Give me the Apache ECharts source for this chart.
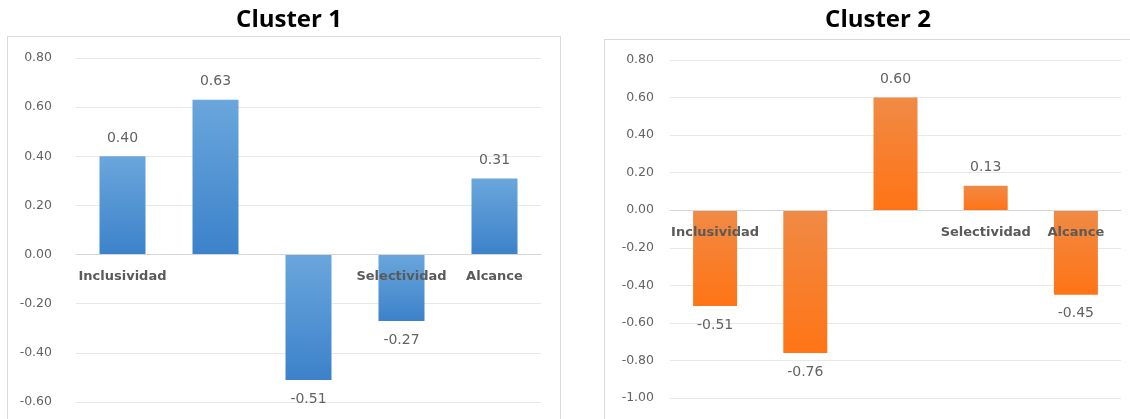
<!DOCTYPE html>
<html>
<head>
<meta charset="utf-8">
<script src="https://cdn.jsdelivr.net/npm/echarts@6/dist/echarts.min.js"></script>
<style>
  html, body { margin: 0; padding: 0; background: #fff; }
  #chart { width: 1130px; height: 419px; }
</style>
</head>
<body>
<div id="chart"></div>
<script>
// categories (the 2nd and 3rd have no visible name in the source)
const categories = ["Inclusividad", "", " ", "Selectividad", "Alcance"];
const cluster1 = [0.40, 0.63, -0.51, -0.27, 0.31];
const cluster2 = [-0.51, -0.76, 0.60, 0.13, -0.45];
const titles = ["Cluster 1", "Cluster 2"];
const yRanges = [[-0.6, 0.8], [-1, 0.8]];

const H = 419;
const grids = [
  { left: 76, right: 589, top: 58, bottom: 17 },
  { left: 670, right: 9, top: 60, bottom: 21 },
];

const titleFont = "'Open Sans', sans-serif";
const font = "'DejaVu Sans', sans-serif";
const gray = "#636363";

/* 柱子数据：正值标签在上，负值标签在下 */
const toData = (vals) =>
  vals.map((v) => ({
    value: v,
    label: v >= 0 ? { position: "top", distance: 11 } : { position: "bottom", distance: 12 },
  }));

const grad = (top, bottom) =>
  new echarts.graphic.LinearGradient(0, 0, 0, 1, [
    { offset: 0, color: top },
    { offset: 1, color: bottom },
  ]);

// 分类轴放到 0 线的位置
const zeroOffset = (i) => {
  const g = grids[i];
  const [min, max] = yRanges[i];
  const h = H - g.top - g.bottom;
  return -((0 - min) / (max - min)) * h;
};

const xAxis = (gridIndex) => ({
  type: "category",
  gridIndex,
  data: categories,
  position: "bottom",
  offset: zeroOffset(gridIndex),
  z: 5,
  axisTick: { show: false },
  axisLine: { onZero: false, lineStyle: { color: "#d6d6d6" } },
  axisLabel: {
    color: "#5a5a5a",
    fontSize: 13,
    fontWeight: "bold",
    fontFamily: font,
    margin: 16,
    interval: 0,
  },
});

const yAxis = (gridIndex, margin) => ({
  type: "value",
  gridIndex,
  min: yRanges[gridIndex][0],
  max: yRanges[gridIndex][1],
  interval: 0.2,
  axisLine: { show: false },
  axisTick: { show: false },
  splitLine: { lineStyle: { color: "#e8e8e8" } },
  axisLabel: {
    color: gray,
    fontSize: 12.5,
    fontFamily: font,
    margin,
    formatter: (v) => v.toFixed(2),
  },
});

const series = (idx, vals, width, top, bottom) => ({
  type: "bar",
  xAxisIndex: idx,
  yAxisIndex: idx,
  barWidth: width,
  data: toData(vals),
  itemStyle: { color: grad(top, bottom) },
  label: {
    show: true,
    color: gray,
    fontSize: 14,
    fontFamily: font,
    formatter: (p) => p.value.toFixed(2),
  },
});

const titleStyle = { fontSize: 24, fontWeight: "bold", color: "#000", fontFamily: titleFont };

const myChart = echarts.init(document.getElementById("chart"));
const option = {
  animation: false,
  title: [
    { text: titles[0], left: 284, top: 3, textAlign: "center", textStyle: titleStyle },
    { text: titles[1], left: 873, top: 3, textAlign: "center", textStyle: titleStyle },
  ],
  graphic: [
    {
      type: "rect",
      shape: { x: 7.5, y: 36.5, width: 553, height: 390 },
      style: { fill: "none", stroke: "#d9d9d9", lineWidth: 1 },
      silent: true,
    },
    {
      type: "rect",
      shape: { x: 604.5, y: 39.5, width: 540, height: 390 },
      style: { fill: "none", stroke: "#d9d9d9", lineWidth: 1 },
      silent: true,
    },
  ],
  grid: grids,
  xAxis: [xAxis(0), xAxis(1)],
  yAxis: [yAxis(0, 24), yAxis(1, 16)],
  series: [
    series(0, cluster1, 46, "#6aa6dc", "#3c82ca"),
    series(1, cluster2, 44, "#f08a45", "#ff7415"),
  ],
};
option && myChart.setOption(option);
</script>
</body>
</html>
